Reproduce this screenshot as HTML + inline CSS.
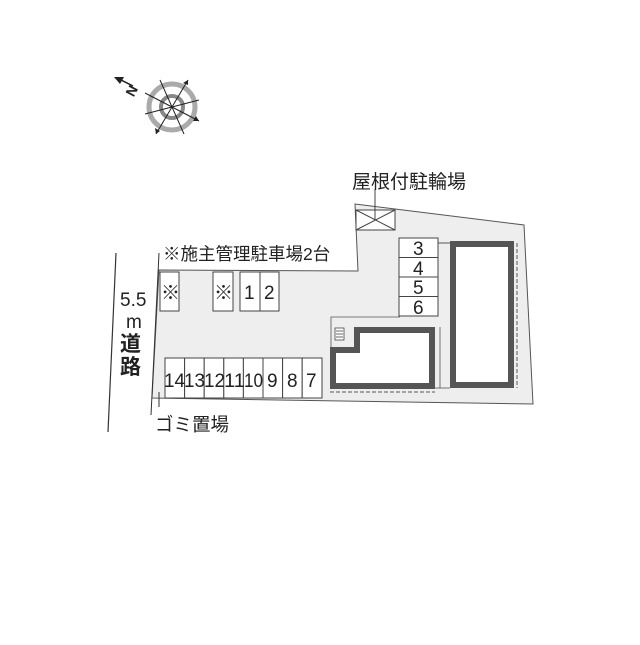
<!DOCTYPE html>
<html><head><meta charset="utf-8"><style>
body{margin:0;background:#fff;}
svg text{font-family:"Liberation Sans","Noto Sans CJK JP",sans-serif;fill:#222;}
</style></head><body>
<svg width="640" height="640" viewBox="0 0 640 640" xmlns="http://www.w3.org/2000/svg">
<!-- compass -->
<circle cx="172" cy="107" r="23" fill="none" stroke="#aaa" stroke-width="5"/>
<circle cx="172" cy="107" r="11" fill="none" stroke="#888" stroke-width="4"/>
<g stroke="#222" stroke-width="1">
<line x1="145" y1="93" x2="199" y2="121"/>
<line x1="160" y1="80" x2="184" y2="134"/>
<line x1="188" y1="80" x2="156" y2="134"/>
<line x1="145" y1="114" x2="199" y2="100"/>
</g>
<polygon points="199,121 193,121 196,116" fill="#222"/>
<polygon points="156,134 155,128 160,131" fill="#222"/>
<polygon points="188,80 183,83 188,85" fill="#222"/>
<line x1="117" y1="78" x2="133" y2="86" stroke="#222" stroke-width="1.5"/>
<polygon points="114,77 124,77 120,84" fill="#222"/>
<text x="126" y="95" font-size="14" font-weight="bold" transform="rotate(-62 132 90)">N</text>
<!-- site -->
<polygon points="355,204 524,225 533,404 152,398 159,270 358,271" fill="#eee" stroke="#555" stroke-width="1"/>
<!-- road -->
<line x1="116" y1="253" x2="108" y2="432" stroke="#333" stroke-width="1.2"/>
<line x1="159" y1="253" x2="151" y2="415" stroke="#333" stroke-width="1"/>
<line x1="159" y1="392" x2="159" y2="407" stroke="#333" stroke-width="1"/>
<text x="120" y="306" font-size="19">5.5</text>
<text x="126" y="328" font-size="19">m</text>
<text x="120" y="351" font-size="21" font-weight="bold">道</text>
<text x="120" y="374" font-size="21" font-weight="bold">路</text>
<!-- bicycle -->
<rect x="356" y="210" width="39" height="20" fill="#fff" stroke="#444"/>
<line x1="356" y1="210" x2="395" y2="230" stroke="#444"/><line x1="395" y1="210" x2="356" y2="230" stroke="#444"/>
<line x1="375" y1="189" x2="375" y2="220" stroke="#444"/>
<text x="352" y="188" font-size="19">屋根付駐輪場</text>
<text x="163" y="260" font-size="17.5">※施主管理駐車場2台</text>
<!-- slots top -->
<g fill="#fff" stroke="#444" stroke-width="1">
<rect x="160" y="272" width="19" height="39"/>
<rect x="213" y="272" width="20" height="39"/>
<rect x="240" y="272" width="20" height="39"/><rect x="260" y="272" width="19" height="39"/>
<rect x="399" y="238" width="39" height="19.5"/><rect x="399" y="257.5" width="39" height="19.5"/>
<rect x="399" y="277" width="39" height="19.5"/><rect x="399" y="296.5" width="39" height="19.5"/>
</g>
<g font-size="19">
<text x="161" y="299">※</text><text x="214" y="299">※</text>
<text x="244" y="299">1</text><text x="264" y="299">2</text>
<text x="413" y="255">3</text><text x="413" y="275">4</text><text x="413" y="294">5</text><text x="413" y="314">6</text>
</g>
<!-- bottom slots -->
<g fill="#fff" stroke="#444" stroke-width="1">
<rect x="165" y="358" width="19.6" height="40"/><rect x="184.6" y="358" width="19.6" height="40"/>
<rect x="204.2" y="358" width="19.6" height="40"/><rect x="223.8" y="358" width="19.6" height="40"/>
<rect x="243.4" y="358" width="19.6" height="40"/><rect x="263" y="358" width="19.6" height="40"/>
<rect x="282.6" y="358" width="19.6" height="40"/><rect x="302.2" y="358" width="19.8" height="40"/>
</g>
<g font-size="19">
<text x="164" y="387" textLength="21" lengthAdjust="spacingAndGlyphs">14</text>
<text x="184" y="387" textLength="21" lengthAdjust="spacingAndGlyphs">13</text>
<text x="204" y="387" textLength="21" lengthAdjust="spacingAndGlyphs">12</text>
<text x="224" y="387" textLength="21" lengthAdjust="spacingAndGlyphs">11</text>
<text x="244" y="387" textLength="19" lengthAdjust="spacingAndGlyphs">10</text>
<text x="267" y="387">9</text><text x="287" y="387">8</text><text x="306" y="387">7</text>
</g>
<text x="155" y="431" font-size="18.5">ゴミ置場</text>
<!-- buildings -->
<line x1="438" y1="243" x2="450" y2="243" stroke="#555"/>
<rect x="453" y="244" width="58" height="141" fill="#fff" stroke="#555" stroke-width="6"/>
<line x1="517" y1="243" x2="517" y2="388" stroke="#555" stroke-dasharray="4,2"/>
<polyline points="331,347 331,317 400,317" fill="none" stroke="#555" stroke-width="0.8"/>
<line x1="440" y1="327" x2="440" y2="388" stroke="#555" stroke-width="0.8"/>
<line x1="435" y1="388" x2="450" y2="388" stroke="#555" stroke-width="0.8"/>
<polygon points="357,330 432,330 432,386 333,386 333,350 357,350" fill="#fff" stroke="#555" stroke-width="6"/>
<line x1="330" y1="392" x2="435" y2="392" stroke="#555" stroke-dasharray="4,2"/>
<rect x="335" y="328" width="9" height="12" fill="#fff" stroke="#444" stroke-width="0.8"/>
<g stroke="#444" stroke-width="0.8"><line x1="336" y1="331" x2="343" y2="331"/><line x1="336" y1="334" x2="343" y2="334"/><line x1="336" y1="337" x2="343" y2="337"/></g>
</svg>
</body></html>
